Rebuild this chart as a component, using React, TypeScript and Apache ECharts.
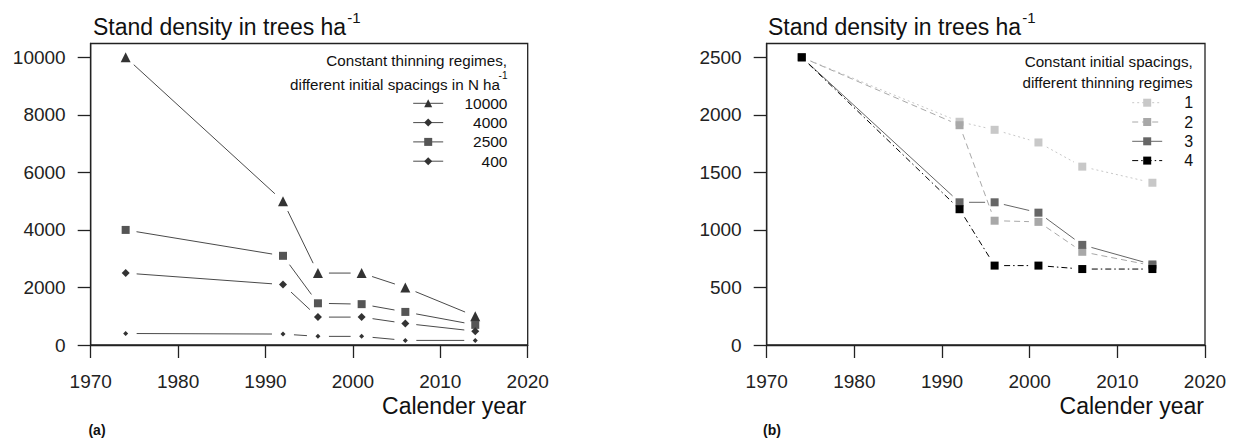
import React, { useEffect, useRef } from 'react';
import * as echarts from 'echarts';

// ---------- data ----------
const years = [1974, 1992, 1996, 2001, 2006, 2014];

// panel (a): constant thinning regimes, different initial spacings
const leftNames = ['10000', '4000', '2500', '400'];
const seriesTriangle = [10000, 5000, 2500, 2500, 2000, 1000];
const seriesSmall = [400, 380, 300, 300, 160, 160];
const seriesSquare = [4000, 3100, 1450, 1420, 1150, 700];
const seriesDiamond = [2500, 2100, 970, 970, 750, 480];

// panel (b): constant initial spacing, different thinning regimes
const rightNames = ['1', '2', '3', '4'];
const regime1 = [2500, 1940, 1870, 1760, 1550, 1410];
const regime2 = [2500, 1910, 1080, 1070, 810, 690];
const regime3 = [2500, 1240, 1240, 1150, 870, 700];
const regime4 = [2500, 1180, 690, 690, 660, 660];

const xTicks = [1970, 1980, 1990, 2000, 2010, 2020];
const leftYTicks = [0, 2000, 4000, 6000, 8000, 10000];
const rightYTicks = [0, 500, 1000, 1500, 2000, 2500];

// ---------- styling ----------
const FONT = '"Liberation Sans", Arial, Helvetica, sans-serif';
const AX = '#222';
const TXT = '#111';

const leftDefs = [
  { name: leftNames[0], vals: seriesTriangle, symbol: 'triangle', size: 10, color: '#333' },
  { name: leftNames[1], vals: seriesSmall, symbol: 'diamond', size: 5, color: '#333' },
  { name: leftNames[2], vals: seriesSquare, symbol: 'rect', size: 8, color: '#555' },
  { name: leftNames[3], vals: seriesDiamond, symbol: 'diamond', size: 8, color: '#333' },
];
const LEFT_LINE = '#4a4a4a';

const rightDefs = [
  { name: rightNames[0], vals: regime1, color: '#c8c8c8', dash: [2, 3] as any },
  { name: rightNames[1], vals: regime2, color: '#a8a8a8', dash: [6, 4] as any },
  { name: rightNames[2], vals: regime3, color: '#666666', dash: null as any },
  { name: rightNames[3], vals: regime4, color: '#000000', dash: [6, 3, 1.5, 3] as any },
];

function measure(text: string, size: number, weight = 'normal') {
  const ctx = document.createElement('canvas').getContext('2d') as CanvasRenderingContext2D;
  ctx.font = `${weight} ${size}px ${FONT}`;
  return ctx.measureText(text).width;
}

function segSeries(name: string, vals: number[], axis: number, color: string, dash: any, gap: number) {
  return {
    type: 'custom',
    name: name + ' line',
    xAxisIndex: axis,
    yAxisIndex: axis,
    coordinateSystem: 'cartesian2d',
    silent: true,
    z: 1,
    encode: { x: [0, 2], y: [1, 3] },
    data: years.slice(0, -1).map((y, i) => [y, vals[i], years[i + 1], vals[i + 1]]),
    renderItem: (_p: any, api: any) => {
      const a = api.coord([api.value(0), api.value(1)]);
      const b = api.coord([api.value(2), api.value(3)]);
      const dx = b[0] - a[0];
      const dy = b[1] - a[1];
      const len = Math.hypot(dx, dy);
      if (len <= 2 * gap) return null;
      const ux = dx / len;
      const uy = dy / len;
      return {
        type: 'line',
        shape: { x1: a[0] + ux * gap, y1: a[1] + uy * gap, x2: b[0] - ux * gap, y2: b[1] - uy * gap },
        style: { stroke: color, lineWidth: 1, lineDash: dash || null, fill: null },
      };
    },
  };
}

function markerSeries(name: string, vals: number[], axis: number, symbol: string, size: number, color: string, z: number) {
  return {
    type: 'line',
    name,
    xAxisIndex: axis,
    yAxisIndex: axis,
    data: years.map((y, i) => [y, vals[i]]),
    symbol,
    symbolSize: size,
    showSymbol: true,
    showAllSymbol: true,
    silent: true,
    z,
    emphasis: { disabled: true },
    itemStyle: { color, borderWidth: 0, opacity: 1 },
    lineStyle: { color, width: 1, opacity: 0 },
  };
}

const plain = (v: number) => String(v);

function buildOption() {
  const axisLineStyle = { color: AX, width: 1.3 };
  const xAxisCommon = {
    type: 'value',
    min: 1970,
    max: 2020,
    interval: 10,
    axisLine: { show: true, onZero: false, lineStyle: axisLineStyle },
    axisTick: { show: true, length: 13, lineStyle: axisLineStyle, customValues: xTicks },
    axisLabel: { margin: 27, fontSize: 19, color: '#222', fontFamily: FONT, customValues: xTicks, formatter: plain },
    splitLine: { show: false },
  };
  const yAxisCommon = {
    type: 'value',
    min: 0,
    axisLine: { show: true, lineStyle: axisLineStyle },
    splitLine: { show: false },
  };

  const series: any[] = [];
  leftDefs.forEach((d) => series.push(segSeries(d.name, d.vals, 0, LEFT_LINE, null, 11)));
  leftDefs.forEach((d, i) => series.push(markerSeries(d.name, d.vals, 0, d.symbol, d.size, d.color, 3 + i)));
  rightDefs.forEach((d) => series.push(segSeries(d.name, d.vals, 1, d.color, d.dash, 9.5)));
  rightDefs.forEach((d, i) => series.push(markerSeries(d.name, d.vals, 1, 'rect', 8, d.color, 3 + i)));

  const legendCommon = {
    orient: 'vertical',
    padding: 0,
    itemWidth: 30,
    itemHeight: 10,
    itemGap: 3.3,
    selectedMode: false,
    formatter: '{r|{name}}',
  };

  const titleW = measure('Stand density in trees ha', 23);
  const texts: any[] = [];
  const addText = (text: string, x: number, y: number, size: number, align = 'left', weight = 'normal') =>
    texts.push({
      type: 'text',
      x,
      y,
      silent: true,
      style: { text, fontSize: size, fontFamily: FONT, fontWeight: weight, fill: TXT, align, verticalAlign: 'middle' },
    });

  // panel titles
  [93, 768].forEach((x0) => {
    addText('Stand density in trees ha', x0, 26.6, 23);
    addText('-1', x0 + titleW + 1, 17.5, 15);
  });
  // legend headings
  addText('Constant thinning regimes,', 507, 60.7, 15.2, 'right');
  addText('different initial spacings in N ha', 500, 84.3, 15.2, 'right');
  addText('-1', 507.5, 75.5, 10, 'right');
  addText('Constant initial spacings,', 1192.7, 61, 15.2, 'right');
  addText('different thinning regimes', 1192.7, 82.3, 15.2, 'right');
  // axis titles
  addText('Calender year', 526.5, 405.5, 23, 'right');
  addText('Calender year', 1204, 405.5, 23, 'right');
  // panel letters
  addText('(a)', 97, 430, 14, 'center', 'bold');
  addText('(b)', 772, 430, 14, 'center', 'bold');

  const yLabel = (ticks: number[]) => ({
    margin: 25,
    fontSize: 19,
    color: '#222',
    fontFamily: FONT,
    customValues: ticks,
    formatter: plain,
    padding: [4, 0, 0, 0],
  });

  return {
    animation: false,
    backgroundColor: '#ffffff',
    textStyle: { fontFamily: FONT },
    grid: [
      { left: 90.7, top: 43.5, width: 437, height: 301.5, show: true, borderColor: AX, borderWidth: 1.3, backgroundColor: 'transparent', containLabel: false, outerBoundsMode: 'none' },
      { left: 766.7, top: 43.5, width: 438.3, height: 301.5, show: true, borderColor: AX, borderWidth: 1.3, backgroundColor: 'transparent', containLabel: false, outerBoundsMode: 'none' },
    ],
    xAxis: [
      { ...xAxisCommon, gridIndex: 0 },
      { ...xAxisCommon, gridIndex: 1 },
    ],
    yAxis: [
      {
        ...yAxisCommon,
        gridIndex: 0,
        max: 10480,
        interval: 2000,
        axisTick: { show: true, length: 13, lineStyle: axisLineStyle, customValues: leftYTicks },
        axisLabel: yLabel(leftYTicks),
      },
      {
        ...yAxisCommon,
        gridIndex: 1,
        max: 2620,
        interval: 500,
        axisTick: { show: true, length: 13, lineStyle: axisLineStyle, customValues: rightYTicks },
        axisLabel: yLabel(rightYTicks),
      },
    ],
    legend: [
      {
        ...legendCommon,
        left: 412.7,
        top: 95.3,
        data: leftDefs.map((d) => ({
          name: d.name,
          itemStyle: { color: d.color, borderWidth: 0, opacity: 1 },
          lineStyle: { color: LEFT_LINE, width: 1, type: 'solid', opacity: 1 },
        })),
        textStyle: {
          color: TXT,
          fontFamily: FONT,
          fontSize: 15.5,
          rich: { r: { width: 59.3, align: 'right', fontSize: 15.5, fontFamily: FONT, color: TXT, lineHeight: 16 } },
        },
      },
      {
        ...legendCommon,
        left: 1131.7,
        top: 94.7,
        data: rightDefs.map((d) => ({
          name: d.name,
          itemStyle: { color: d.color, borderWidth: 0, opacity: 1 },
          lineStyle: { color: d.color, width: 1, type: d.dash || 'solid', opacity: 1 },
        })),
        textStyle: {
          color: TXT,
          fontFamily: FONT,
          fontSize: 16,
          rich: { r: { width: 26, align: 'right', fontSize: 16, fontFamily: FONT, color: TXT, lineHeight: 16 } },
        },
      },
    ],
    graphic: { elements: texts },
    series,
  };
}

export default function App() {
  const ref = useRef<HTMLDivElement>(null);
  useEffect(() => {
    if (!ref.current) return;
    const chart = echarts.init(ref.current, null, { renderer: 'svg' });
    chart.setOption(buildOption() as any);
    return () => chart.dispose();
  }, []);
  return (
    <div
      ref={ref}
      style={{ position: 'absolute', left: 0, top: 0, width: 1238, height: 441, background: '#fff' }}
    />
  );
}
